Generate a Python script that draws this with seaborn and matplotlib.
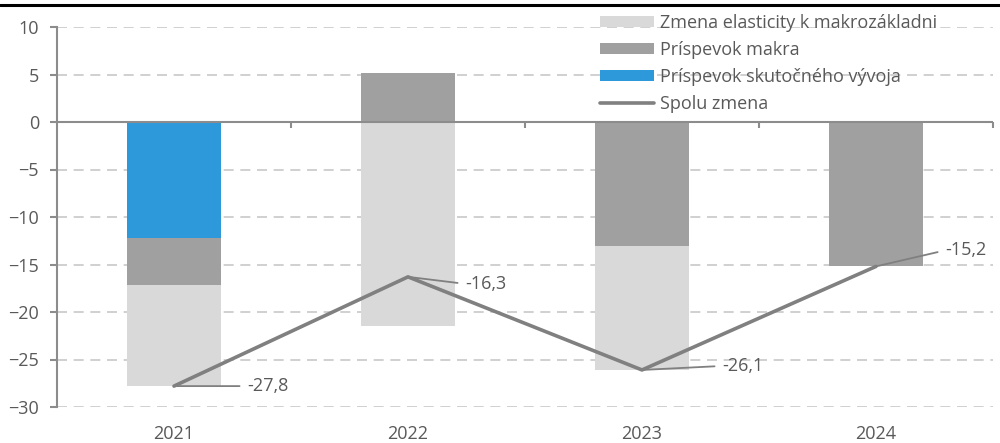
import matplotlib
matplotlib.use('Agg')
import matplotlib.pyplot as plt
import seaborn as sns
import numpy as np
from matplotlib.lines import Line2D

# data
years = ['2021', '2022', '2023', '2024']
skutocny = [-12.2, 0.0, 0.0, 0.0]        # Príspevok skutočného vývoja
makro = [-5.0, 5.2, -13.0, -15.2]        # Príspevok makra
elasticita = [-10.6, -21.5, -13.1, 0.0]  # Zmena elasticity k makrozákladni
spolu = [-27.8, -16.3, -26.1, -15.2]     # Spolu zmena

# stack order like the source: actual, macro, elasticity
series = [
    ('Príspevok skutočného vývoja', skutocny, '#2d98da'),
    ('Príspevok makra', makro, '#a0a0a0'),
    ('Zmena elasticity k makrozákladni', elasticita, '#d9d9d9'),
]

sns.set_style('white')
plt.rcParams['font.family'] = ['Open Sans', 'DejaVu Sans']
fsize = 13
txt_color = '#595959'
axis_color = '#8c8c8c'

fig = plt.figure(figsize=(10, 4.43), dpi=100)
ax = fig.add_axes([0.057, 1 - 407 / 443, 0.936, 380 / 443])

pos_base = np.zeros(len(years))
neg_base = np.zeros(len(years))
for name, vals, col in series:
    vals = np.array(vals)
    bottom = np.where(vals >= 0, pos_base, neg_base)
    sns.barplot(x=years, y=vals, bottom=bottom, color=col, width=0.4,
                saturation=1, linewidth=0, label=name, ax=ax, zorder=2)
    pos_base = pos_base + np.clip(vals, 0, None)
    neg_base = neg_base + np.clip(vals, None, 0)

# total line
sns.lineplot(x=np.arange(len(years)), y=spolu, color='#808080', linewidth=2.6,
             label='Spolu zmena', ax=ax, zorder=4)

# data labels with leader lines (offsets in pixels)
offsets = [(73, 0), (57, -7), (80, 4), (69, 16)]
for i, (v, off) in enumerate(zip(spolu, offsets)):
    ax.annotate(f'{v:.1f}'.replace('.', ','), xy=(i, v), xytext=off,
                textcoords='offset pixels', ha='left', va='center',
                fontsize=fsize, color=txt_color, zorder=5,
                arrowprops=dict(arrowstyle='-', color='#808080', lw=1.3,
                                relpos=(0, 0.5), shrinkA=3, shrinkB=0))

ax.set_xlim(-0.5, len(years) - 0.5)
ax.set_ylim(-30, 10)
ax.set_yticks(np.arange(-30, 11, 5))
ax.set_xlabel('')
ax.set_ylabel('')

# grid and axes
ax.yaxis.grid(True, linestyle=(0, (6, 4)), color='#c8c8c8', linewidth=1.2)
ax.xaxis.grid(False)
ax.set_axisbelow(True)
for s in ['top', 'right', 'bottom']:
    ax.spines[s].set_visible(False)
ax.spines['left'].set_color(axis_color)
ax.spines['left'].set_linewidth(1.5)
ax.axhline(0, color=axis_color, linewidth=1.5, zorder=3)
ax.vlines(np.arange(len(years)) + 0.5, -0.6, 0, color=axis_color,
          linewidth=1.5, clip_on=False, zorder=3)

ax.tick_params(axis='y', direction='out', length=5, width=1.5, color=axis_color,
               labelsize=fsize, labelcolor=txt_color, pad=8, left=True)
ax.tick_params(axis='x', length=0, labelsize=fsize, labelcolor=txt_color, pad=13)

# legend
handles, labels = ax.get_legend_handles_labels()
order = ['Zmena elasticity k makrozákladni', 'Príspevok makra',
         'Príspevok skutočného vývoja', 'Spolu zmena']
hmap = dict(zip(labels, handles))
leg = ax.legend([hmap[o] for o in order], order, loc='upper left',
                bbox_to_anchor=(600 / 1000, 1 - 14 / 443),
                bbox_transform=fig.transFigure, frameon=False, fontsize=fsize,
                handlelength=3.0, handleheight=0.55, handletextpad=0.3,
                labelspacing=0.5, borderaxespad=0, borderpad=0)
for t in leg.get_texts():
    t.set_color(txt_color)

# black rule across the top
fig.add_artist(Line2D([0, 1], [1 - 5 / 443] * 2, transform=fig.transFigure,
                      color='black', linewidth=2.2))

fig.savefig('out.png', dpi=100)
